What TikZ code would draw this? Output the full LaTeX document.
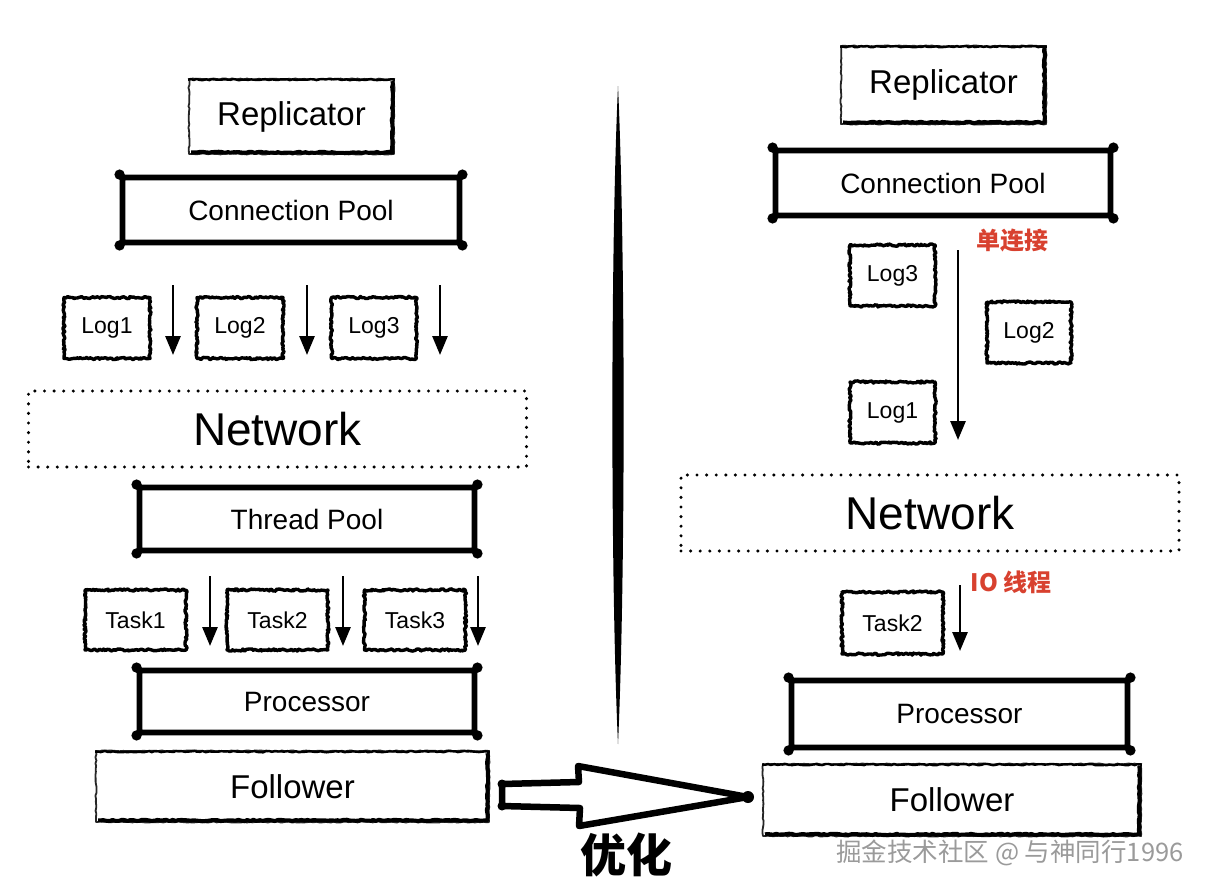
\documentclass[tikz,border=0pt]{standalone}
\usepackage{fontspec}
\setmainfont{Liberation Sans}
\newfontfamily\cjk{Noto Sans CJK SC}
\usetikzlibrary{arrows.meta,decorations.pathmorphing}
\definecolor{notered}{HTML}{D8412F}
\definecolor{wm}{HTML}{9A9A9A}
\pgfmathsetseed{7}
\tikzset{
  pool/.style={draw, line width=5.8pt, rounded corners=1.5pt, inner sep=0pt, font=\fontsize{28}{30}\selectfont},
  logbox/.style={draw, line width=3.4pt, line join=round, line cap=round, decorate, decoration={random steps, segment length=1.6pt, amplitude=1.1pt, pre length=1pt, post length=1pt}, inner sep=0pt, font=\fontsize{23}{24}\selectfont},
  grunge/.style={draw=black!85, line width=1.8pt, line join=round, decorate, decoration={random steps, segment length=3pt, amplitude=0.6pt, pre length=1pt, post length=1pt}, inner sep=0pt, font=\fontsize{33}{34}\selectfont},
  grungeedge/.style={line width=4pt, line join=round, decorate, decoration={random steps, segment length=3pt, amplitude=0.7pt}},
  net/.style={draw, line width=3.4pt, dash pattern=on 0pt off 9.6pt, line cap=round, inner sep=0pt, font=\fontsize{46}{48}\selectfont},
  flow/.style={line width=2.8pt, -{Triangle[width=15pt,length=19pt]}},
  note/.style={text=notered, font=\cjk\bfseries\fontsize{24}{26}\selectfont},
  blob/.style={fill=black},
}
\begin{document}
\begin{tikzpicture}[x=1pt,y=-1pt]
\useasboundingbox (0,0) rectangle (1206,892);

% ---------- left side ----------
\node[grunge, minimum width=205, minimum height=75] (repL) at (291.5,116.5) {Replicator};
\node[pool, minimum width=337, minimum height=65] (cpL) at (291,210) {Connection Pool};
\node[logbox, minimum width=86, minimum height=61] (log1L) at (107,328) {Log1};
\node[logbox, minimum width=86, minimum height=61] (log2L) at (240,328) {Log2};
\node[logbox, minimum width=85, minimum height=61] (log3L) at (374,328) {Log3};
\coordinate (a1s) at (173,285); \coordinate (a1e) at (173,355);
\coordinate (a2s) at (307,285); \coordinate (a2e) at (307,355);
\coordinate (a3s) at (440,285); \coordinate (a3e) at (440,355);
\draw[flow] (a1s) -- (a1e);
\draw[flow] (a2s) -- (a2e);
\draw[flow] (a3s) -- (a3e);
\node[net, minimum width=498, minimum height=76] (netL) at (277.5,429) {Network};
\node[pool, minimum width=335, minimum height=63] (tpL) at (307,519) {Thread Pool};
\node[logbox, minimum width=101, minimum height=60] (t1L) at (135.5,620) {Task1};
\node[logbox, minimum width=101, minimum height=60] (t2L) at (277.5,620) {Task2};
\node[logbox, minimum width=101, minimum height=60] (t3L) at (415,620) {Task3};
\coordinate (b1s) at (210,576); \coordinate (b1e) at (210,646);
\coordinate (b2s) at (343,576); \coordinate (b2e) at (343,646);
\coordinate (b3s) at (478,576); \coordinate (b3e) at (478,646);
\draw[flow] (b1s) -- (b1e);
\draw[flow] (b2s) -- (b2e);
\draw[flow] (b3s) -- (b3e);
\node[pool, minimum width=335, minimum height=62] (prL) at (307,701.5) {Processor};
\node[grunge, minimum width=393, minimum height=71] (foL) at (292.5,786.5) {Follower};

% ---------- right side ----------
\node[grunge, minimum width=205, minimum height=78] (repR) at (943.5,85) {Replicator};
\node[pool, minimum width=335, minimum height=65] (cpR) at (943,183) {Connection Pool};
\node[note] (n1) at (1012,241) {单连接};
\node[logbox, minimum width=85, minimum height=61] (log3R) at (892.5,275.5) {Log3};
\node[logbox, minimum width=84, minimum height=61] (log2R) at (1029,332.5) {Log2};
\node[logbox, minimum width=85, minimum height=61] (log1R) at (892.5,412.5) {Log1};
\coordinate (c1s) at (958,250); \coordinate (c1e) at (958,440);
\draw[flow] (c1s) -- (c1e);
\node[net, minimum width=498, minimum height=76] (netR) at (930,513) {Network};
\node[note] (n2) at (1011,582) {IO 线程};
\node[logbox, minimum width=101, minimum height=62] (t2R) at (892.5,623) {Task2};
\coordinate (d1s) at (960,585); \coordinate (d1e) at (960,651);
\draw[flow] (d1s) -- (d1e);
\node[pool, minimum width=336, minimum height=67] (prR) at (959.5,714) {Processor};
\node[grunge, minimum width=378, minimum height=72] (foR) at (952,800) {Follower};

% heavy edges of the grungy boxes
\foreach \n in {repL,foL,repR,foR}{
  \draw[grungeedge] ([shift={(-2.5,3)}]\n.north east) -- ([shift={(-2.5,-2.5)}]\n.south east) -- ([shift={(3,-2.5)}]\n.south west);
  \draw[grungeedge, line width=2.4pt] ([shift={(0,1.5)}]\n.north west) -- ([shift={(0,1.5)}]\n.north east);
}
% blobs at the corners of the pool boxes
\foreach \n in {cpL,tpL,prL,cpR,prR}{
  \foreach \a in {north east,north west,south east,south west}{
    \fill[blob] (\n.\a) circle (5.2);
  }
}

% ---------- divider ----------
\fill (618,86) .. controls (625.5,250) and (625.5,580) .. (618,744)
      .. controls (610.5,580) and (610.5,250) .. (618,86) -- cycle;

% ---------- big arrow ----------
\coordinate (bigtip) at (748,797);
\draw[line width=6.5pt, line join=round, line cap=round]
  (502,784) -- (579,782) -- (578,766) -- (bigtip) -- (579,826) -- (580,808) -- (502,806) -- cycle;
\fill (bigtip) circle (6);
\fill (502,784) circle (4.5);
\fill (502,806) circle (4.5);
\node[font=\cjk\bfseries\fontsize{46}{48}\selectfont] (opt) at (626,855) {优化};

% ---------- watermark ----------
\node[text=wm, font=\cjk\fontsize{25.5}{27}\selectfont] (wmk) at (1010,853) {掘金技术社区 @ 与神同行1996};
\end{tikzpicture}
\end{document}
